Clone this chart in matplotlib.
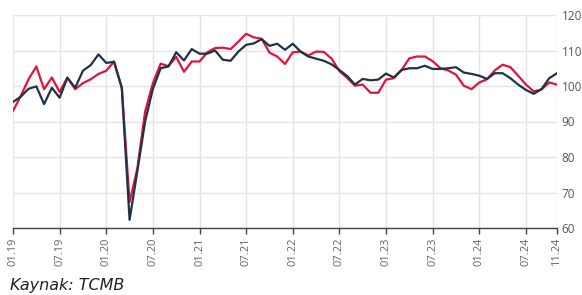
import matplotlib
matplotlib.use("Agg")
import matplotlib.pyplot as plt
import numpy as np

# monthly index values, 01.19 - 11.24
months = [f"{m:02d}.{y}" for y in range(19, 25) for m in range(1, 13)][:71]

navy = [95.5, 97, 99.2, 99.9, 94.9, 99.5, 96.7, 102.3, 99.5, 104.3, 105.9, 108.9,
        106.5, 106.8, 99.4, 62.3, 76, 90, 99.2, 105, 105.5, 109.5, 107.2, 110.4,
        109.1, 109.1, 110, 107.4, 107.1, 109.7, 111.6, 112, 113.2, 111.3, 111.9, 110.2,
        111.9, 109.7, 108.3, 107.7, 107.1, 106.1, 104.5, 102.8, 100.4, 102, 101.6, 101.8,
        103.5, 102.4, 104.5, 105, 105, 105.7, 104.8, 104.8, 105, 105.3, 103.8, 103.4,
        102.9, 102, 103.6, 103.6, 102.2, 100.4, 98.9, 97.8, 99.1, 102.2, 103.6]

red = [93, 97.2, 101.9, 105.5, 99.1, 102.4, 98.3, 102.4, 99.1, 100.8, 101.9, 103.4,
       104.3, 106.9, 99.6, 67.3, 76.8, 92.8, 100.8, 106.3, 105.6, 108.2, 104, 106.9,
       106.9, 109.5, 110.7, 110.8, 110.4, 112.5, 114.7, 113.7, 113.3, 109.4, 108.3, 106.2,
       109.5, 109.7, 108.6, 109.7, 109.6, 107.7, 104.2, 102.3, 100.1, 100.4, 98.1, 98.1,
       101.8, 102.2, 104.5, 107.8, 108.3, 108.3, 107, 105, 104.4, 103.2, 100.1, 99.1,
       101, 101.9, 104.4, 106, 105.3, 102.9, 100.4, 98.5, 99, 101, 100.4]

tick_idx = list(range(0, 71, 6)) + [70]
tick_lab = [months[i] for i in tick_idx]

plt.rcParams['font.family'] = ['Open Sans', 'DejaVu Sans']

fig = plt.figure(figsize=(5.82, 2.95), dpi=100)
ax = fig.add_axes([13/582, 1-228/295, 544/582, 213/295])

xs = np.arange(len(navy))
ax.plot(xs, red, color="#e0143c", lw=1.6, zorder=3)
ax.plot(xs, navy, color="#1f3246", lw=1.6, zorder=4)

ax.set_xlim(0, 70)
ax.set_ylim(60, 120)
ax.set_yticks(range(60, 121, 10))
ax.yaxis.tick_right()
ax.tick_params(axis="y", length=0, pad=3.5, labelsize=8.5, labelcolor="#555555")

ax.set_xticks(tick_idx)
ax.set_xticklabels(tick_lab, rotation=90, fontsize=8, color="#666666")
ax.tick_params(axis="x", length=4, width=1, color="#444444", pad=3)

ax.grid(True, color="#e4e4e4", lw=1)
for s in ["top", "right", "left"]:
    ax.spines[s].set_visible(False)
ax.spines["bottom"].set_color("#444444")
ax.spines["bottom"].set_linewidth(1)

fig.text(10/582, 1-290/295, "Kaynak: TCMB", fontsize=11.5, style="italic",
         family="DejaVu Sans", color="#222222", va="baseline")

fig.savefig("out.png", dpi=100)
